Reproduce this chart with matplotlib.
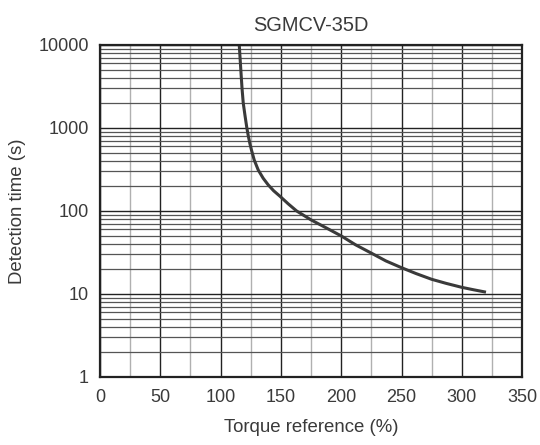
import matplotlib
matplotlib.use("Agg")
import matplotlib.pyplot as plt
import numpy as np
from matplotlib.ticker import FixedLocator, LogLocator, NullFormatter

plt.rcParams['font.family'] = ['Liberation Sans', 'DejaVu Sans']

# values
torque = [115.5, 116.8, 117.8, 118.8, 120.3, 121.8, 123, 124.3, 125.6, 127.9, 131.2, 135.3, 139.5,
          144, 149.3, 156, 163, 175, 188, 200, 212, 225, 237, 250, 262, 275, 287, 300, 310, 320]
det_time = [10000, 5000, 3000, 2000, 1400, 1000, 800, 650, 543, 411, 312, 248, 206,
            175, 150, 122, 100, 78, 62, 50, 39, 31, 25, 20.7, 17.6, 15, 13.4, 12, 11.2, 10.5]

x_ticks = [0, 50, 100, 150, 200, 250, 300, 350]
y_ticks = [1, 10, 100, 1000, 10000]
y_labels = ["1", "10", "100", "1000", "10000"]

txt = "#3a3a3a"

fig = plt.figure(figsize=(5.4, 4.45), dpi=100)
ax = fig.add_axes([0.185, 0.153, 0.782, 0.746])

ax.set_yscale("log")
ax.set_xlim(0, 350)
ax.set_ylim(1, 10000)

ax.xaxis.set_major_locator(FixedLocator(x_ticks))
ax.xaxis.set_minor_locator(FixedLocator([25, 75, 125, 175, 225, 275, 325]))
ax.yaxis.set_major_locator(FixedLocator(y_ticks))
ax.yaxis.set_minor_locator(LogLocator(base=10, subs=np.arange(2, 10)))
ax.yaxis.set_minor_formatter(NullFormatter())
ax.set_yticklabels(y_labels)

ax.grid(True, which="major", color="#222222", lw=1.0)
ax.grid(True, which="minor", axis="x", color="#b0b0b0", lw=1.0)
ax.grid(True, which="minor", axis="y", color="#555555", lw=0.9)
ax.set_axisbelow(True)

ax.tick_params(which="both", length=0, labelsize=13, labelcolor=txt)
ax.tick_params(axis="x", pad=9)
ax.tick_params(axis="y", pad=8)

for s in ax.spines.values():
    s.set_linewidth(1.6)
    s.set_color("#222222")

ax.plot(torque, det_time, color="#3a3a3a", lw=2.2, solid_capstyle="butt",
        solid_joinstyle="round")

ax.set_title("SGMCV-35D", fontsize=14.4, color=txt, pad=10)
ax.set_xlabel("Torque reference (%)", fontsize=13.4, color=txt, labelpad=9)
ax.set_ylabel("Detection time (s)", fontsize=13.4, color=txt, labelpad=9)

fig.savefig("out.png", dpi=100)
